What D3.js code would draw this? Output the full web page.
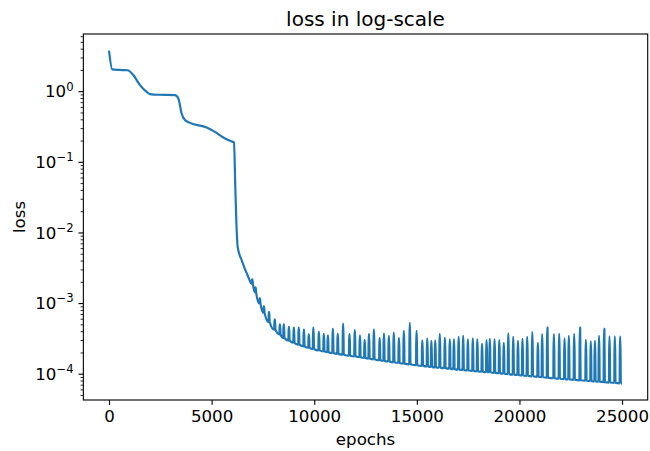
<!DOCTYPE html>
<html><head><meta charset="utf-8">
<script src="https://cdn.jsdelivr.net/npm/d3@7"></script>
<style>body{margin:0;background:#fff}</style>
</head><body>
<svg id="c" width="650" height="451"></svg>
<script>
const titleText = "loss in log-scale";
const xLabelText = "epochs";
const yLabelText = "loss";
const xTickValues = [0, 5000, 10000, 15000, 20000, 25000];
const yTickExponents = [0, -1, -2, -3, -4];

// smooth early part of the loss curve
const curveEpochs = [0, 160, 500, 910, 1185, 1510, 1835, 2000, 2400, 3216, 3380, 3540, 3703, 3947, 4760, 5165, 5570, 5896, 6091, 6154, 6203, 6271, 6465, 6788];
const curveLoss = [3.75, 2.03, 2.0, 1.98, 1.69, 1.22, 0.98, 0.91, 0.89, 0.88, 0.79, 0.48, 0.39, 0.356, 0.306, 0.265, 0.221, 0.198, 0.188, 0.044, 0.0149, 0.0062, 0.00404, 0.00234];

// periodic spikes: epoch, loss just before the spike, loss at spike top
const spikeEpochs = [6950,7110,7320,7520,7770,8050,8300,8490,8740,8980,9220,9470,9710,9930,10200,10440,10640,10880,11120,11380,11690,11950,12200,12430,12640,12880,13160,13370,13610,13850,14100,14340,14630,14960,15240,15480,15680,15870,16090,16340,16580,16780,17010,17230,17460,17700,17920,18150,18370,18530,18760,18990,19210,19430,19670,19900,20120,20350,20600,20870,21080,21330,21650,21910,22170,22380,22640,22920,23210,23450,23650,23850,24100,24360,24620,24880];
const spikeBase = [1.88e-3,1.42e-3,9.9e-4,7.3e-4,5.4e-4,4.2e-4,3.6e-4,3.2e-4,2.95e-4,2.75e-4,2.58e-4,2.44e-4,2.33e-4,2.24e-4,2.14e-4,2.07e-4,2.02e-4,1.96e-4,1.91e-4,1.86e-4,1.80e-4,1.76e-4,1.71e-4,1.67e-4,1.64e-4,1.60e-4,1.55e-4,1.52e-4,1.49e-4,1.45e-4,1.42e-4,1.39e-4,1.36e-4,1.32e-4,1.29e-4,1.27e-4,1.25e-4,1.23e-4,1.22e-4,1.20e-4,1.18e-4,1.16e-4,1.14e-4,1.13e-4,1.11e-4,1.10e-4,1.08e-4,1.07e-4,1.05e-4,1.05e-4,1.03e-4,1.02e-4,1.00e-4,9.87e-5,9.71e-5,9.59e-5,9.44e-5,9.31e-5,9.19e-5,9.04e-5,8.92e-5,8.81e-5,8.63e-5,8.49e-5,8.39e-5,8.30e-5,8.20e-5,8.07e-5,7.96e-5,7.86e-5,7.78e-5,7.71e-5,7.60e-5,7.50e-5,7.41e-5,7.31e-5];
const spikePeak = [2.17e-3,1.67e-3,1.17e-3,9.0e-4,7.5e-4,5.9e-4,5.0e-4,5.0e-4,4.6e-4,4.5e-4,4.5e-4,4.2e-4,3.6e-4,4.5e-4,3.9e-4,3.65e-4,3.45e-4,4.3e-4,3.67e-4,5.1e-4,3.65e-4,4.15e-4,3.45e-4,3.0e-4,3.65e-4,4.2e-4,3.2e-4,3.7e-4,3.4e-4,3.8e-4,3.2e-4,4.0e-4,5.2e-4,4.0e-4,2.95e-4,3.15e-4,2.9e-4,2.95e-4,3.65e-4,3.2e-4,3.05e-4,3.05e-4,3.3e-4,3.4e-4,3.05e-4,3.15e-4,3.05e-4,2.65e-4,2.97e-4,3.1e-4,3.05e-4,2.97e-4,2.72e-4,3.7e-4,3.3e-4,2.9e-4,3.1e-4,3.3e-4,3.85e-4,2.72e-4,3.6e-4,4.5e-4,3.6e-4,3.65e-4,3.15e-4,3.4e-4,3.6e-4,4.5e-4,3.0e-4,2.85e-4,2.9e-4,3.4e-4,4.3e-4,3.35e-4,3.35e-4,3.35e-4];
const lastEpoch = 24999;
const lastLoss = 7.3e-5;

// build the series
const data = [];
curveEpochs.forEach((e, i) => data.push([e, curveLoss[i]]));
spikeEpochs.forEach((e, i) => {
  data.push([e, spikeBase[i]]);
  data.push([e + 15, spikePeak[i]]);
  data.push([e + 38, spikePeak[i]]);
  data.push([e + 60, spikeBase[i]]);
});
data.push([lastEpoch, lastLoss]);

const FONT = "DejaVu Sans";
const FS = 16.67;
const L = 83.35, R = 647.7, T = 34, B = 400;
const svg = d3.select("#c");

// matplotlib-like 5% margins
const [x0, x1] = d3.extent(data, d => d[0]);
const xp = (x1 - x0) * 0.05;
const x = d3.scaleLinear().domain([x0 - xp, x1 + xp]).range([L, R]);
const [ly0, ly1] = d3.extent(data, d => Math.log10(d[1]));
const yp = (ly1 - ly0) * 0.05;
const y = d3.scaleLog().domain([Math.pow(10, ly0 - yp), Math.pow(10, ly1 + yp)]).range([B, T]);

svg.append("clipPath").attr("id", "clip").append("rect")
  .attr("x", L).attr("y", T).attr("width", R - L).attr("height", B - T);

svg.append("path").datum(data)
  .attr("clip-path", "url(#clip)")
  .attr("fill", "none").attr("stroke", "#1f77b4").attr("stroke-width", 2.2)
  .attr("stroke-linejoin", "round")
  .attr("d", d3.line().x(d => x(d[0])).y(d => y(d[1])).curve(d3.curveMonotoneX));

// x axis
const gx = svg.append("g").attr("transform", `translate(0,${B})`)
  .call(d3.axisBottom(x).tickValues(xTickValues).tickFormat(d3.format("d")).tickSize(4.86).tickPadding(4.86));
gx.select(".domain").remove();
gx.selectAll(".tick line").attr("stroke", "#000").attr("stroke-width", 1.11);
gx.selectAll(".tick text").attr("font-family", FONT).attr("font-size", FS).attr("fill", "#000");

// y axis major ticks
const majors = yTickExponents.map(k => Math.pow(10, k));
const gy = svg.append("g").attr("transform", `translate(${L},0)`)
  .call(d3.axisLeft(y).tickValues(majors).tickFormat("").tickSize(4.86));
gy.select(".domain").remove();
gy.selectAll(".tick line").attr("stroke", "#000").attr("stroke-width", 1.11);
gy.selectAll(".tick text").remove();

// minor ticks
const [yd0, yd1] = y.domain();
const minors = [];
for (let k = -6; k <= 1; k++) for (let m = 2; m <= 9; m++) {
  const v = m * Math.pow(10, k);
  if (v >= yd0 && v <= yd1) minors.push(v);
}
const gym = svg.append("g").attr("transform", `translate(${L},0)`)
  .call(d3.axisLeft(y).tickValues(minors).tickFormat("").tickSize(2.78));
gym.select(".domain").remove();
gym.selectAll(".tick line").attr("stroke", "#000").attr("stroke-width", 0.83);
gym.selectAll(".tick text").remove();

// y tick labels 10^k
yTickExponents.forEach(k => {
  const t = svg.append("text")
    .attr("x", L - 9.72).attr("y", y(Math.pow(10, k)) + 6.1)
    .attr("text-anchor", "end").attr("font-family", FONT).attr("font-size", FS).attr("fill", "#000");
  t.append("tspan").text("10");
  t.append("tspan").attr("font-size", FS * 0.7).attr("dy", -6.7)
    .text(k < 0 ? "\u2212" + Math.abs(k) : String(k));
});

// spines
svg.append("rect").attr("x", L).attr("y", T).attr("width", R - L).attr("height", B - T)
  .attr("fill", "none").attr("stroke", "#000").attr("stroke-width", 1.11);

// title and labels
svg.append("text").attr("x", (L + R) / 2).attr("y", T - 8.33)
  .attr("text-anchor", "middle").attr("font-family", FONT).attr("font-size", 20).attr("fill", "#000")
  .text(titleText);
svg.append("text").attr("x", (L + R) / 2).attr("y", 444.7)
  .attr("text-anchor", "middle").attr("font-family", FONT).attr("font-size", FS).attr("fill", "#000")
  .text(xLabelText);
svg.append("text").attr("transform", `translate(24.5,${(T + B) / 2}) rotate(-90)`)
  .attr("text-anchor", "middle").attr("font-family", FONT).attr("font-size", FS).attr("fill", "#000")
  .text(yLabelText);
</script>
</body></html>
